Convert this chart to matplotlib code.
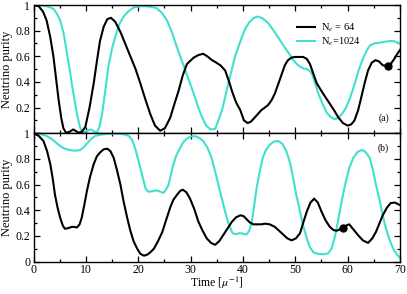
import matplotlib
matplotlib.use("Agg")
import matplotlib.pyplot as plt
from matplotlib.ticker import MultipleLocator, FuncFormatter

plt.rcParams['font.family'] = ['Liberation Serif', 'DejaVu Serif']
plt.rcParams['mathtext.fontset'] = 'stix'

# ---- data: panel (a) ----
t_a64 = [0, 1, 1.8, 2.5, 3.2, 3.8, 4.3, 4.8, 5.3, 5.7, 6.2, 6.8, 7.6, 8.6, 9.2, 9.9, 10.7, 11.5, 12.1, 12.7,
         13.4, 14.1, 14.8, 15.6, 16.6, 17.5, 18.5, 19.5, 20.4, 21.4, 22.3, 23.2, 24.2, 25.1, 26.1, 27, 27.7,
         28.5, 29.3, 30.6, 31.5, 32.4, 33.2, 34.1, 34.7, 35.7, 36.6, 37.3, 37.9, 38.7, 39.5, 40.2, 40.9, 41.5,
         42.3, 43.5, 44.8, 45.5, 46.1, 46.8, 47.4, 48.0, 48.6, 49.3, 49.9, 51.5, 52.2, 52.8, 53.4, 54.1, 55.3,
         56.6, 57.4, 58.2, 59.1, 60, 60.7, 61.3, 62, 62.6, 63.3, 63.9, 64.6, 65.3, 66, 66.7, 67.8, 68.4, 68.9,
         69.5, 70]
p_a64 = [1.0, 0.99, 0.95, 0.88, 0.75, 0.6, 0.43, 0.26, 0.12, 0.04, 0.005, 0.01, 0.03, 0.005, 0.01, 0.05, 0.2,
         0.39, 0.56, 0.72, 0.83, 0.89, 0.9, 0.87, 0.79, 0.7, 0.6, 0.5, 0.39, 0.26, 0.15, 0.06, 0.02, 0.04, 0.12,
         0.24, 0.33, 0.45, 0.54, 0.59, 0.61, 0.62, 0.6, 0.57, 0.556, 0.53, 0.49, 0.41, 0.33, 0.24, 0.18, 0.1,
         0.08, 0.09, 0.125, 0.18, 0.22, 0.26, 0.31, 0.39, 0.46, 0.53, 0.57, 0.59, 0.595, 0.595, 0.58, 0.54,
         0.47, 0.39, 0.31, 0.23, 0.18, 0.125, 0.08, 0.06, 0.07, 0.1, 0.18, 0.28, 0.4, 0.49, 0.55, 0.57, 0.56,
         0.53, 0.525, 0.55, 0.58, 0.62, 0.65]

t_a1024 = [0, 1, 2, 3, 3.8, 4.5, 5.1, 5.8, 6.4, 6.9, 7.3, 7.8, 8.3, 8.8, 9.2, 9.7, 10.3, 11.0, 11.6, 12.1, 12.6,
           13.1, 13.7, 14.3, 15.0, 15.6, 16.4, 17.2, 18.1, 19.1, 20.3, 21.6, 22.6, 23.5, 24.5, 25.5, 26.5, 27.4,
           28.2, 29.0, 29.8, 30.6, 31.4, 32.2, 33.0, 33.8, 34.7, 35.3, 36.0, 36.6, 37.2, 37.9, 38.5, 39.2, 39.8,
           40.5, 41.3, 42.1, 42.9, 43.8, 44.8, 45.7, 46.7, 47.5, 48.3, 49.0, 49.6, 50.3, 50.9, 51.6, 52.2, 52.8,
           53.2, 53.8, 54.4, 55.2, 56.0, 56.8, 57.5, 58.2, 58.9, 59.7, 60.5, 61.3, 62.1, 62.9, 63.7, 64.3, 65.0,
           66.0, 66.6, 67.4, 68.2, 68.8, 69.4, 70]
p_a1024 = [1.0, 1.0, 0.995, 0.985, 0.97, 0.93, 0.88, 0.77, 0.62, 0.5, 0.39, 0.27, 0.15, 0.06, 0.01, 0.01, 0.02,
           0.03, 0.015, 0.005, 0.05, 0.15, 0.33, 0.52, 0.66, 0.75, 0.85, 0.91, 0.95, 0.98, 0.99, 0.99, 0.985,
           0.975, 0.94, 0.88, 0.78, 0.67, 0.58, 0.49, 0.4, 0.31, 0.21, 0.125, 0.06, 0.03, 0.034, 0.1, 0.18, 0.28,
           0.39, 0.5, 0.6, 0.68, 0.75, 0.82, 0.87, 0.9, 0.91, 0.895, 0.86, 0.81, 0.75, 0.7, 0.65, 0.61, 0.57,
           0.54, 0.52, 0.505, 0.5, 0.485, 0.46, 0.39, 0.31, 0.23, 0.16, 0.125, 0.11, 0.12, 0.15, 0.2, 0.28, 0.38,
           0.49, 0.58, 0.65, 0.685, 0.70, 0.705, 0.71, 0.715, 0.72, 0.718, 0.71, 0.70]

dot_a = (67.8, 0.525)

# ---- data: panel (b) ----
t_b64 = [0, 1, 1.9, 2.6, 3.2, 3.7, 4.1, 4.6, 5.1, 5.6, 6.0, 6.6, 7.3, 7.8, 8.3, 8.8, 9.2, 9.7, 10.2, 10.8, 11.5,
         12.1, 12.7, 13.4, 14.1, 14.7, 15.3, 15.9, 16.6, 17.2, 17.9, 18.5, 19.1, 19.8, 20.4, 21.1, 21.8, 22.4,
         23.0, 23.8, 24.6, 25.3, 26.1, 26.7, 27.4, 28.0, 28.5, 29.2, 29.9, 30.7, 31.5, 32.3, 33.1, 33.9, 34.7,
         35.5, 36.3, 37.1, 37.9, 38.7, 39.5, 40.1, 40.7, 41.3, 42, 43.5, 44.3, 45.1, 46.1, 46.9, 47.7, 48.5,
         49.3, 50.1, 50.9, 51.5, 52.2, 52.9, 53.6, 54.3, 55.0, 55.8, 56.6, 57.3, 57.9, 58.5, 59.1, 59.7, 60.3,
         61.1, 61.9, 62.9, 63.9, 64.7, 65.4, 66.1, 66.7, 67.5, 68.2, 69.0, 70]
p_b64 = [1.0, 0.98, 0.94, 0.86, 0.76, 0.64, 0.52, 0.42, 0.34, 0.28, 0.255, 0.26, 0.27, 0.27, 0.265, 0.29, 0.34,
         0.44, 0.55, 0.66, 0.76, 0.82, 0.85, 0.875, 0.88, 0.86, 0.81, 0.72, 0.6, 0.47, 0.34, 0.24, 0.16, 0.1,
         0.06, 0.045, 0.055, 0.075, 0.1, 0.16, 0.23, 0.32, 0.42, 0.48, 0.52, 0.55, 0.56, 0.54, 0.49, 0.41, 0.31,
         0.24, 0.18, 0.145, 0.13, 0.16, 0.21, 0.26, 0.31, 0.345, 0.36, 0.355, 0.33, 0.305, 0.29, 0.29, 0.295,
         0.29, 0.27, 0.24, 0.21, 0.18, 0.165, 0.18, 0.22, 0.3, 0.39, 0.46, 0.49, 0.46, 0.39, 0.32, 0.27, 0.245,
         0.24, 0.25, 0.265, 0.28, 0.29, 0.25, 0.21, 0.165, 0.145, 0.18, 0.23, 0.3, 0.36, 0.42, 0.455, 0.46, 0.44]

t_b1024 = [0, 1.2, 2.5, 3.5, 4.5, 5.3, 6.0, 6.8, 7.6, 8.3, 8.9, 9.6, 10.2, 11.0, 11.8, 13.0, 14.0, 15.3, 16.6,
           17.5, 18.2, 18.8, 19.4, 19.9, 20.4, 20.9, 21.4, 21.9, 22.3, 22.9, 23.5, 24.2, 24.8, 25.3, 25.8, 26.2,
           26.7, 27.3, 28.0, 28.6, 29.3, 30.1, 30.9, 31.6, 32.4, 33.2, 34.0, 34.7, 35.2, 35.6, 36.1, 36.6, 37.2,
           37.9, 38.3, 38.8, 39.3, 39.8, 40.2, 40.7, 41.2, 41.7, 42.1, 42.6, 43.2, 43.8, 44.4, 45.1, 45.9, 46.7,
           47.5, 48.3, 49.0, 49.6, 50.2, 50.9, 51.5, 52.2, 52.8, 53.5, 54.3, 55.0, 55.8, 56.3, 56.9, 57.5, 58.0,
           58.5, 59.1, 59.8, 60.4, 61.1, 61.9, 62.7, 63.4, 64.2, 64.8, 65.4, 66.1, 66.7, 67.3, 68.0, 68.7, 69.4,
           70]
p_b1024 = [1.0, 0.995, 0.98, 0.955, 0.92, 0.895, 0.88, 0.87, 0.865, 0.865, 0.87, 0.89, 0.92, 0.955, 0.98, 0.99,
           0.995, 0.997, 0.995, 0.99, 0.98, 0.95, 0.885, 0.81, 0.73, 0.65, 0.57, 0.545, 0.545, 0.55, 0.555, 0.545,
           0.535, 0.56, 0.6, 0.67, 0.755, 0.83, 0.885, 0.93, 0.96, 0.975, 0.977, 0.965, 0.94, 0.89, 0.81, 0.7,
           0.62, 0.55, 0.47, 0.39, 0.3, 0.23, 0.215, 0.215, 0.22, 0.22, 0.215, 0.21, 0.24, 0.31, 0.42, 0.57, 0.7,
           0.81, 0.87, 0.91, 0.935, 0.94, 0.92, 0.86, 0.77, 0.65, 0.52, 0.39, 0.28, 0.18, 0.11, 0.07, 0.06, 0.057,
           0.058, 0.065, 0.1, 0.18, 0.28, 0.39, 0.52, 0.65, 0.74, 0.81, 0.855, 0.87, 0.855, 0.81, 0.72, 0.6, 0.48,
           0.36, 0.26, 0.17, 0.1, 0.055, 0.03]

dot_b = (59.1, 0.265)

legend_labels = [r'N$_e$ = 64', r'N$_e$=1024']
panel_labels = ['(a)', '(b)']

# ---- figure ----
fig = plt.figure(figsize=(4.07, 2.94), dpi=100)
L, R = 33.5 / 407, 400 / 407
yb_bot = 1 - 261.5 / 294
yb_mid = 1 - 133.3 / 294
yb_top = 1 - 5 / 294
ax_a = fig.add_axes([L, yb_mid, R - L, yb_top - yb_mid])
ax_b = fig.add_axes([L, yb_bot, R - L, yb_mid - yb_bot], sharex=ax_a)

black = '#000000'
cyan = '#40E0D0'
lw = 1.5

ax_a.plot(t_a64, p_a64, color=black, lw=lw, label=legend_labels[0], zorder=3)
ax_a.plot(t_a1024, p_a1024, color=cyan, lw=lw, label=legend_labels[1], zorder=2)
ax_a.plot([dot_a[0]], [dot_a[1]], 'o', color=black, ms=5, zorder=4)

ax_b.plot(t_b64, p_b64, color=black, lw=lw, zorder=3)
ax_b.plot(t_b1024, p_b1024, color=cyan, lw=lw, zorder=2)
ax_b.plot([dot_b[0]], [dot_b[1]], 'o', color=black, ms=5, zorder=4)

for ax in (ax_a, ax_b):
    ax.set_xlim(0, 70)
    ax.set_ylim(0, 1)
    ax.xaxis.set_major_locator(MultipleLocator(10))
    ax.xaxis.set_minor_locator(MultipleLocator(5))
    ax.yaxis.set_major_locator(MultipleLocator(0.2))
    ax.yaxis.set_minor_locator(MultipleLocator(0.1))
    ax.tick_params(which='both', direction='in', top=True, right=True, labelsize=8.5, width=0.9, pad=2.5)
    ax.tick_params(which='major', length=4)
    ax.tick_params(which='minor', length=2)
    for s in ax.spines.values():
        s.set_linewidth(1.0)
    ax.set_ylabel('Neutrino purity', fontsize=9, labelpad=1.5)

ax_b.tick_params(axis='x', pad=1.5)

def yfmt(v, pos):
    if abs(v) < 1e-9:
        return '0'
    if abs(v - 1) < 1e-9:
        return '1'
    return f'{v:.1f}'

ax_b.yaxis.set_major_formatter(FuncFormatter(yfmt))
ax_a.yaxis.set_major_formatter(FuncFormatter(lambda v, p: '' if abs(v) < 1e-9 else yfmt(v, p)))
ax_a.tick_params(labelbottom=False)

ax_b.set_xlabel(r'Time [$\mu^{-1}$]', fontsize=8.5)
ax_b.xaxis.set_label_coords(0.5, -0.105)

leg = ax_a.legend(loc='upper left', bbox_to_anchor=(0.7, 0.93), frameon=False, fontsize=7.5,
                  handlelength=1.7, handletextpad=0.55, labelspacing=0.2, borderpad=0.2)

ax_a.text(0.955, 0.12, panel_labels[0], transform=ax_a.transAxes, fontsize=7, ha='center', va='center')
ax_b.text(0.955, 0.88, panel_labels[1], transform=ax_b.transAxes, fontsize=7, ha='center', va='center')

fig.savefig('out.png', dpi=100)
